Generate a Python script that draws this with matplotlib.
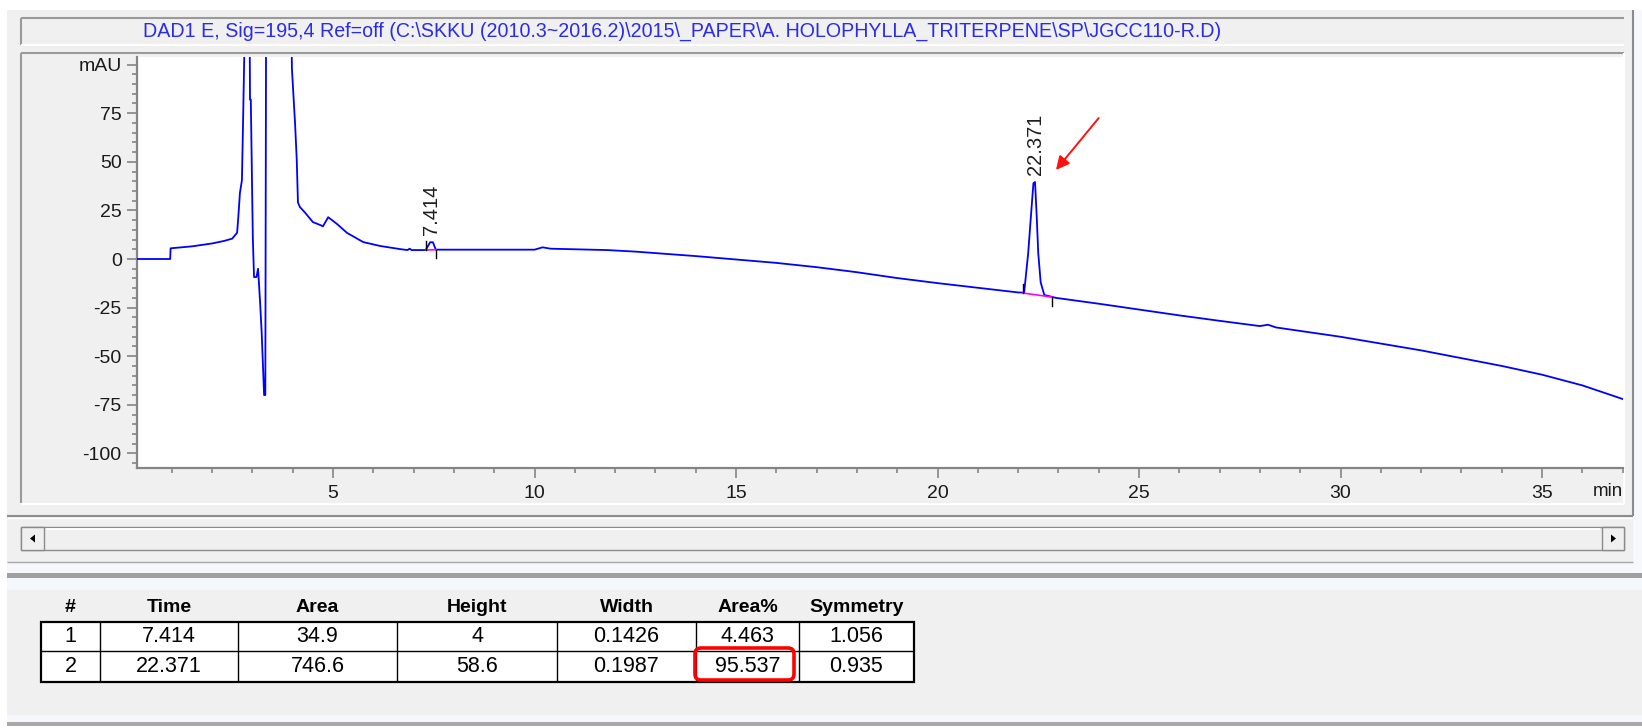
import matplotlib
matplotlib.use("Agg")
import matplotlib.pyplot as plt
from matplotlib.patches import Rectangle, FancyBboxPatch, Polygon
from matplotlib.ticker import MultipleLocator

# ---------------- data ----------------
title_text = r"DAD1 E, Sig=195,4 Ref=off (C:\SKKU (2010.3~2016.2)\2015\_PAPER\A. HOLOPHYLLA_TRITERPENE\SP\JGCC110-R.D)"

time_min = [0.14, 0.96, 0.97, 1.5, 2.0, 2.3, 2.5, 2.62, 2.65, 2.69, 2.74, 2.77, 2.82,
            2.86, 2.90, 2.94, 2.96, 3.01, 3.04, 3.10, 3.14, 3.19, 3.23, 3.29, 3.32,
            3.34, 3.40, 3.90, 3.98, 4.06, 4.10, 4.13, 4.18, 4.30, 4.50, 4.68, 4.75,
            4.88, 5.10, 5.35, 5.75, 6.17, 6.66, 6.85, 6.90, 6.95, 7.30, 7.41, 7.48,
            7.55, 8.0, 10.0, 10.2, 10.4, 11.8, 12.5, 14.0, 16.0, 17.0, 18.0, 19.0,
            20.0, 21.0, 22.0, 22.15, 22.25, 22.32, 22.38, 22.42, 22.46, 22.50, 22.56,
            22.65, 22.94, 24.0, 25.0, 26.0, 27.0, 28.0, 28.2, 28.4, 29.0, 30.0, 31.0,
            32.0, 33.0, 34.0, 35.0, 36.0, 37.0]
signal_mau = [0.0, 0.0, 5.5, 6.5, 8.0, 9.3, 10.5, 13.5, 21.6, 34.0, 40.6, 73.0, 130.0,
              250.0, 250.0, 82.0, 82.0, 11.0, -9.3, -9.3, -5.0, -22.0, -38.0, -70.0, -70.0,
              130.0, 250.0, 250.0, 98.0, 69.0, 51.0, 29.0, 26.7, 24.0, 19.0, 17.5, 16.8,
              21.5, 18.0, 13.4, 8.7, 6.7, 5.1, 4.6, 5.3, 4.6, 4.6, 8.6, 8.6,
              4.8, 4.8, 4.8, 6.0, 5.3, 4.6, 3.8, 1.5, -2.0, -4.2, -6.8, -9.8,
              -12.4, -14.8, -17.2, -17.3, 3.0, 22.6, 39.0, 39.6, 22.6, 3.0, -12.0,
              -18.5, -20.0, -23.0, -26.0, -29.0, -31.8, -34.5, -33.8, -35.2, -37.0, -40.0, -43.5,
              -47.0, -51.0, -55.0, -59.5, -65.0, -72.0]

peak_labels = ["7.414", "22.371"]
peak_apex_t = [7.45, 22.42]
peak_apex_y = [8.6, 39.6]
peak_base_start = [(7.30, 4.6), (22.12, -17.5)]
peak_base_end = [(7.55, 4.8), (22.85, -19.6)]

arrow_tail = (24.0, 72.5)
arrow_head = (22.94, 45.8)

y_ticks = [-100, -75, -50, -25, 0, 25, 50, 75, 100]
y_tick_labels = ["-100", "-75", "-50", "-25", "0", "25", "50", "75", "mAU"]
x_ticks = [5, 10, 15, 20, 25, 30, 35]

table_headers = ["#", "Time", "Area", "Height", "Width", "Area%", "Symmetry"]
table_rows = [["1", "7.414", "34.9", "4", "0.1426", "4.463", "1.056"],
              ["2", "22.371", "746.6", "58.6", "0.1987", "95.537", "0.935"]]
highlight_cell = (1, 5)

# ---------------- figure ----------------
W, H = 1642, 728
fig = plt.figure(figsize=(W / 100, H / 100), dpi=100)
fig.patch.set_facecolor("white")
SANS = ["Liberation Sans", "DejaVu Sans"]
NARROW = ["Liberation Sans Narrow", "Liberation Sans", "DejaVu Sans"]

bg = fig.add_axes([0, 0, 1, 1], zorder=0)
bg.set_xlim(0, W)
bg.set_ylim(H, 0)
bg.axis("off")

def rect(x0, y0, x1, y1, fc, ec="none", lw=0.0, z=1):
    bg.add_patch(Rectangle((x0, y0), x1 - x0, y1 - y0, facecolor=fc, edgecolor=ec, linewidth=lw, zorder=z))

def line(xs, ys, color, lw, z=2):
    bg.plot(xs, ys, color=color, lw=lw, zorder=z, solid_capstyle="butt")

# upper window background
rect(7, 10, 1633, 573, "#f0f0f0")
rect(1633, 10, 1642, 573, "#f7f8fb")
line([1633, 1633], [10, 516], "#8c8c8c", 1.5)
# title bar
rect(21, 18, 1624, 45, "#f0f0f0")
line([21, 1624], [18, 18], "#9a9a9a", 1.5)
line([21, 21], [18, 45], "#9a9a9a", 1.5)
line([21, 1624], [45, 45], "#ffffff", 1.5)
bg.text(143, 31.5, title_text, ha="left", va="center", fontsize=14.1, color="#2b2bea", family=SANS, zorder=3)
# plot panel
line([21, 1624], [53, 53], "#9a9a9a", 1.5)
line([21, 21], [53, 503], "#9a9a9a", 1.5)
line([21, 1624], [504, 504], "#ffffff", 1.5)
line([1624, 1624], [53, 504], "#ffffff", 1.5)
# separator and scrollbar
line([7, 1633], [516, 516], "#8c8c8c", 1.5)
line([7, 1633], [518, 518], "#ffffff", 1.0)
rect(21, 527, 1624, 550, "#f0f0f0", "#8a8a8a", 1.0)
line([46, 1600], [529, 529], "#ffffff", 1.2)
rect(21, 527, 44, 550, "#f0f0f0", "#8a8a8a", 1.0, z=2)
rect(1602, 527, 1624, 550, "#f0f0f0", "#8a8a8a", 1.0, z=2)
bg.add_patch(Polygon([[30, 538.5], [35, 534.5], [35, 542.5]], closed=True, fc="black", ec="none", zorder=3))
bg.add_patch(Polygon([[1616, 538.5], [1611, 534.5], [1611, 542.5]], closed=True, fc="black", ec="none", zorder=3))
line([7, 1633], [562, 562], "#a8a8a8", 1.0)
rect(7, 563, 1633, 573, "#f5f7fb")
# thick divider
rect(7, 573, 1642, 578, "#a0a0a0")
# lower panel
rect(7, 578, 1642, 590, "#f4f7fb")
rect(7, 590, 1642, 715, "#f0f0f0")
rect(7, 715, 1642, 722, "#f4f7fb")
rect(7, 722, 1642, 726, "#a8a8a8")

# ---------------- table ----------------
col_edges = [41, 100, 238, 397, 557, 696, 799, 914]
row_edges = [622, 651, 682]
header_y = 608
rect(col_edges[0], row_edges[0], col_edges[-1], row_edges[-1], "white", z=2)
for cx in col_edges[1:-1]:
    line([cx, cx], [row_edges[0], row_edges[-1]], "black", 1.0, z=3)
for ry in row_edges[1:-1]:
    line([col_edges[0], col_edges[-1]], [ry, ry], "black", 1.0, z=3)
bg.add_patch(Rectangle((col_edges[0], row_edges[0]), col_edges[-1] - col_edges[0],
                       row_edges[-1] - row_edges[0], fc="none", ec="black", lw=1.6, zorder=4))
for j, h in enumerate(table_headers):
    cx = (col_edges[j] + col_edges[j + 1]) / 2
    bg.text(cx, header_y, h, ha="center", va="center", fontsize=14, fontweight="bold",
            family=SANS, color="black", zorder=5)
for i, row in enumerate(table_rows):
    cy = (row_edges[i] + row_edges[i + 1]) / 2 + 0.5
    for j, val in enumerate(row):
        cx = (col_edges[j] + col_edges[j + 1]) / 2
        bg.text(cx, cy, val, ha="center", va="center", fontsize=15.5, family=NARROW,
                color="black", zorder=5)
hi_r, hi_c = highlight_cell
bg.add_patch(FancyBboxPatch((col_edges[hi_c] - 1, row_edges[hi_r] - 3),
                            col_edges[hi_c + 1] - col_edges[hi_c] - 4,
                            row_edges[hi_r + 1] - row_edges[hi_r] + 1,
                            boxstyle="round,pad=0,rounding_size=6", fc="none", ec="#ff0000",
                            lw=2.6, zorder=6))

# ---------------- chromatogram ----------------
ax = fig.add_axes([137 / W, 1 - 468 / H, (1623 - 137) / W, (468 - 57) / H], zorder=2)
ax.set_facecolor("white")
ax.plot(time_min, signal_mau, color="#0000ff", lw=1.3, zorder=3)
ax.set_xlim(0.136, 37.01)
ax.set_ylim(-107.5, 103.9)

for (xs, ys), (xe, ye) in zip(peak_base_start, peak_base_end):
    ax.plot([xs, xe], [ys, ye], color="#ff00ff", lw=1.2, zorder=4)
    ax.plot([xs, xs], [ys, ys + 4.5], color="black", lw=1.0, zorder=4)
    ax.plot([xe, xe], [ye, ye - 4.5], color="black", lw=1.0, zorder=4)
for lab, t, yv in zip(peak_labels, peak_apex_t, peak_apex_y):
    ax.annotate(lab, xy=(t, yv), xytext=(0, 5), textcoords="offset points", rotation=90,
                ha="center", va="bottom", fontsize=14.5, family=SANS, color="#1e1e1e", zorder=5)

ax.annotate("", xy=arrow_head, xytext=arrow_tail,
            arrowprops=dict(arrowstyle="-|>", color="#ff1010", lw=1.4, mutation_scale=20,
                            shrinkA=0, shrinkB=0), zorder=6)

for side in ["top", "right"]:
    ax.spines[side].set_visible(False)
for side in ["left", "bottom"]:
    ax.spines[side].set_color("#858585")
    ax.spines[side].set_linewidth(1.6)

ax.set_yticks(y_ticks)
ax.set_yticklabels(y_tick_labels)
ax.set_xticks(x_ticks)
ax.xaxis.set_minor_locator(MultipleLocator(1))
ax.yaxis.set_minor_locator(MultipleLocator(5))
ax.tick_params(axis="both", which="major", direction="out", length=7.5, width=1.2,
               color="#858585", labelsize=14, labelcolor="#1a1a1a")
ax.tick_params(axis="both", which="minor", direction="out", length=3.5, width=1.2, color="#858585")
ax.tick_params(axis="y", which="major", pad=3.5)
ax.tick_params(axis="x", which="major", pad=5)
for lbl in ax.get_xticklabels() + ax.get_yticklabels():
    lbl.set_family(SANS)
bg.text(1608, 491, "min", ha="center", va="center", fontsize=13.5, family=SANS, color="#1a1a1a", zorder=3)

fig.savefig("out.png", dpi=100, facecolor=fig.get_facecolor())
